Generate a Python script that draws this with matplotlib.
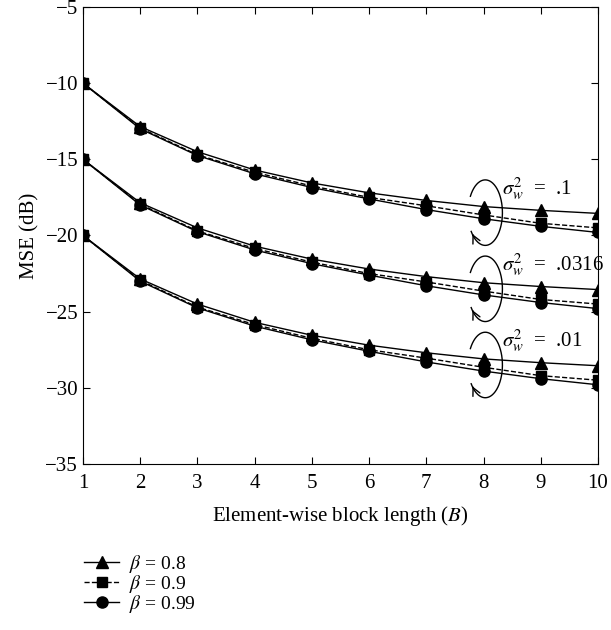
import matplotlib
matplotlib.use("Agg")
import matplotlib.pyplot as plt
import numpy as np

plt.rcParams['font.family'] = ['Liberation Serif', 'DejaVu Serif']
plt.rcParams['mathtext.fontset'] = 'stix'

B = np.arange(1, 11)

# MSE (dB) for sigma_w^2 = .1, the other noise levels sit 5 and 10 dB lower
mse_08 = [-10, -12.85, -14.5, -15.7, -16.55, -17.2, -17.7, -18.1, -18.35, -18.55]
mse_09 = [-10, -12.95, -14.7, -15.85, -16.75, -17.5, -18.05, -18.65, -19.2, -19.5]
mse_099 = [-10, -13.0, -14.75, -15.95, -16.85, -17.6, -18.3, -18.9, -19.4, -19.8]
offsets = [0, -5, -10]
noise_labels = ['.1', '.0316', '.01']

fig = plt.figure(figsize=(6.11, 6.30), dpi=100)
ax = fig.add_axes([0.1358, 0.2635, 0.8429, 0.7254])

styles = [
    (mse_08, '-', '^', 8.5, r'$\beta$ = 0.8'),
    (mse_09, '--', 's', 7.5, r'$\beta$ = 0.9'),
    (mse_099, '-', 'o', 8, r'$\beta$ = 0.99'),
]

for k, off in enumerate(offsets):
    for vals, ls, mk, ms, lab in styles:
        ax.plot(B, np.array(vals) + off, color='k', ls=ls, lw=1, marker=mk,
                ms=ms, label=lab if k == 0 else None)

    # rotating arrow around the B = 8 points
    i = 7
    yc = (mse_08[i] + mse_099[i]) / 2 + off
    xc = B[i] + 0.03
    a, b = 0.30, 2.15
    t = np.radians(np.linspace(150, -145, 200))
    ax.plot(xc + a * np.cos(t), yc + b * np.sin(t), color='k', lw=1)
    t0, t1 = np.radians(-130), np.radians(-145)
    ax.annotate('', xy=(xc + a * np.cos(t1), yc + b * np.sin(t1)),
                xytext=(xc + a * np.cos(t0), yc + b * np.sin(t0)),
                arrowprops=dict(arrowstyle='->', lw=1, color='k',
                                mutation_scale=14))
    ax.text(B[i] + 0.33, yc + 1.6, r'$\sigma_w^2$  =  ' + noise_labels[k],
            fontsize=15, va='center', ha='left')

ax.set_xlim(1, 10)
ax.set_ylim(-35, -5)
ax.set_xticks(B)
yt = np.arange(-35, -4, 5)
ax.set_yticks(yt)
ax.set_yticklabels(['\u2212%d' % abs(v) for v in yt])
ax.tick_params(direction='in', top=True, right=True, labelsize=15, length=5)
ax.tick_params(axis='x', pad=7)
ax.set_xlabel(r'Element-wise block length ($B$)', fontsize=15, labelpad=8)
ax.set_ylabel('MSE (dB)', fontsize=15)

fig.legend(loc='upper left', bbox_to_anchor=(0.125, 0.135),
           frameon=False, fontsize=14, handlelength=1.8, handletextpad=0.5,
           labelspacing=-0.1, borderaxespad=0)

fig.savefig('out.png', dpi=100)
